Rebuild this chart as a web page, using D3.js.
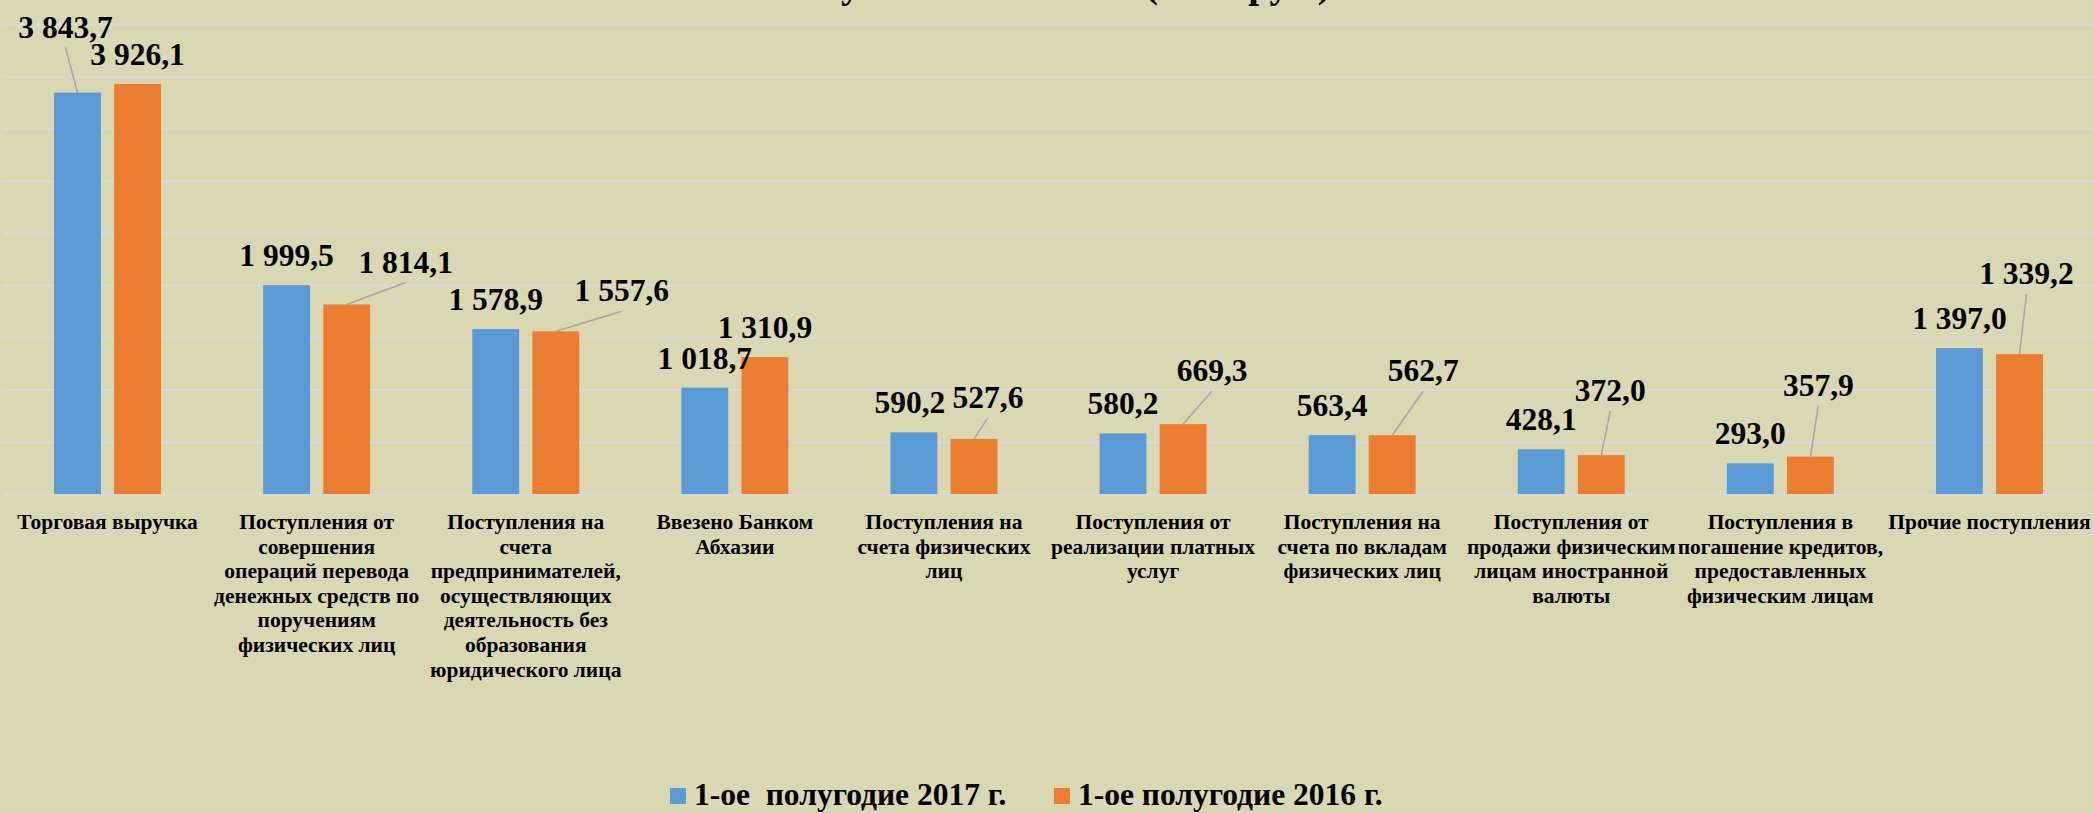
<!DOCTYPE html>
<html>
<head>
<meta charset="utf-8">
<script src="https://cdn.jsdelivr.net/npm/d3@7"></script>
<style>
  html, body { margin: 0; padding: 0; background: #dad7b3; }
  svg { display: block; font-family: "Liberation Serif", "Times New Roman", serif; font-weight: bold; }
</style>
</head>
<body>
<div id="chart"></div>
<script>
//
// Поступления наличных денег – grouped bars, 1st half 2017 vs 2016
//

////////////////////////////////////////////////////////////////////////
// Data

let categories = [
  ["Торговая выручка"],
  ["Поступления от", "совершения", "операций перевода", "денежных средств по", "поручениям", "физических лиц"],
  ["Поступления на", "счета", "предпринимателей,", "осуществляющих", "деятельность без", "образования", "юридического лица"],
  ["Ввезено Банком", "Абхазии"],
  ["Поступления на", "счета физических", "лиц"],
  ["Поступления от", "реализации платных", "услуг"],
  ["Поступления на", "счета по вкладам", "физических лиц"],
  ["Поступления от", "продажи физическим", "лицам иностранной", "валюты"],
  ["Поступления в", "погашение кредитов,", "предоставленных", "физическим лицам"],
  ["Прочие поступления"]
];

let seriesNames = ["1-ое  полугодие 2017 г.", "1-ое полугодие 2016 г."];

let values2017 = [3843.7, 1999.5, 1578.9, 1018.7, 590.2, 580.2, 563.4, 428.1, 293.0, 1397.0];
let values2016 = [3926.1, 1814.1, 1557.6, 1310.9, 527.6, 669.3, 562.7, 372.0, 357.9, 1339.2];

let yTicks = [500, 1000, 1500, 2000, 2500, 3000, 3500, 4000, 4500];

let title = "Поступления в кассы (млн. руб.)";

////////////////////////////////////////////////////////////////////////
// Layout

let width = 2094;
let height = 813;
let colors = ["#5b9bd5", "#ed7d31"];

// labels that were dragged away from the bar (label centre relative to bar top)
// null = default spot, centred just above the bar
let labelMoved = [
  [[-12, -66], null, null, null, [-4, -30], null, null, null, null, null],
  [null, [59, -43], [66, -41], null, [14, -42], [29, -54], [31, -65], [9, -65], [8, -72], [7, -81]]
];

let svg = d3.select("#chart")
  .append("svg")
  .attr("width", width)
  .attr("height", height);

svg.append("rect")
  .attr("width", width)
  .attr("height", height)
  .attr("fill", "#dad7b3");

let x0 = d3.scaleBand()
  .domain(d3.range(categories.length))
  .range([3, width]);

let x1 = d3.scaleBand()
  .domain([0, 1])
  .range([0, x0.bandwidth()])
  .paddingInner(0.22)
  .paddingOuter(0.85);

let y = d3.scaleLinear()
  .domain([0, 4500])
  .range([494, 24]);

let locale = d3.formatLocale({ decimal: ",", thousands: "\u00a0", grouping: [3], currency: ["", ""] });
let fmt = locale.format(",.1f");

// gridlines + baseline
let yAxis = d3.axisLeft(y)
  .tickValues([0].concat(yTicks))
  .tickSize(-(width - 3))
  .tickFormat("");

svg.append("g")
  .attr("transform", "translate(3,0)")
  .call(yAxis)
  .call(g => g.select(".domain").remove())
  .call(g => g.selectAll(".tick line").attr("stroke", "#d9d9d9").attr("stroke-width", 2));

// title, mostly cut off by the top edge (as in the original)
svg.append("text")
  .attr("x", 1043)
  .attr("y", -3)
  .attr("text-anchor", "middle")
  .attr("font-size", 39)
  .text(title);

////////////////////////////////////////////////////////////////////////
// Bars

let allSeries = [values2017, values2016];

let rows = [];
allSeries.forEach((vals, s) => {
  vals.forEach((v, i) => rows.push({ s: s, i: i, v: v, moved: labelMoved[s][i] }));
});

let barX = d => x0(d.i) + x1(d.s);
let barCx = d => barX(d) + x1.bandwidth() / 2;

svg.append("g")
  .selectAll("rect")
  .data(rows)
  .enter()
  .append("rect")
  .attr("x", barX)
  .attr("y", d => y(d.v))
  .attr("width", x1.bandwidth())
  .attr("height", d => y(0) - y(d.v))
  .attr("fill", d => colors[d.s]);

// label centre
let labX = d => barCx(d) + (d.moved ? d.moved[0] : 0);
let labY = d => y(d.v) + (d.moved ? d.moved[1] : -30);

// leader lines for labels pulled far from their bar
svg.append("g")
  .selectAll("line")
  .data(rows.filter(d => d.moved && d.moved[1] < -35))
  .enter()
  .append("line")
  .attr("x1", barCx)
  .attr("y1", d => y(d.v))
  .attr("x2", labX)
  .attr("y2", d => labY(d) + 21)
  .attr("stroke", "#a6a6a6")
  .attr("stroke-width", 1.5);

svg.append("g")
  .selectAll("text")
  .data(rows)
  .enter()
  .append("text")
  .attr("x", labX)
  .attr("y", d => labY(d) + 11)
  .attr("text-anchor", "middle")
  .attr("font-size", 31.5)
  .attr("fill", "#000")
  .text(d => fmt(d.v));

////////////////////////////////////////////////////////////////////////
// Category labels

let catG = svg.append("g")
  .selectAll("text")
  .data(categories)
  .enter()
  .append("text")
  .attr("text-anchor", "middle")
  .attr("font-size", 21.5)
  .attr("fill", "#000");

catG.selectAll("tspan")
  .data((d, i) => d.map(line => ({ line: line, i: i })))
  .enter()
  .append("tspan")
  .attr("x", d => x0(d.i) + x0.bandwidth() / 2)
  .attr("y", (d, k) => 529 + k * 24.6)
  .text(d => d.line);

////////////////////////////////////////////////////////////////////////
// Legend

let legendX = [670, 1054];

let legend = svg.append("g")
  .selectAll("g")
  .data(seriesNames)
  .enter()
  .append("g")
  .attr("transform", (d, i) => "translate(" + legendX[i] + ",788)");

legend.append("rect")
  .attr("width", 16)
  .attr("height", 16)
  .attr("fill", (d, i) => colors[i]);

legend.append("text")
  .attr("x", 24)
  .attr("y", 17)
  .attr("font-size", 31.5)
  .attr("xml:space", "preserve")
  .style("white-space", "pre")
  .text(d => d);
</script>
</body>
</html>
